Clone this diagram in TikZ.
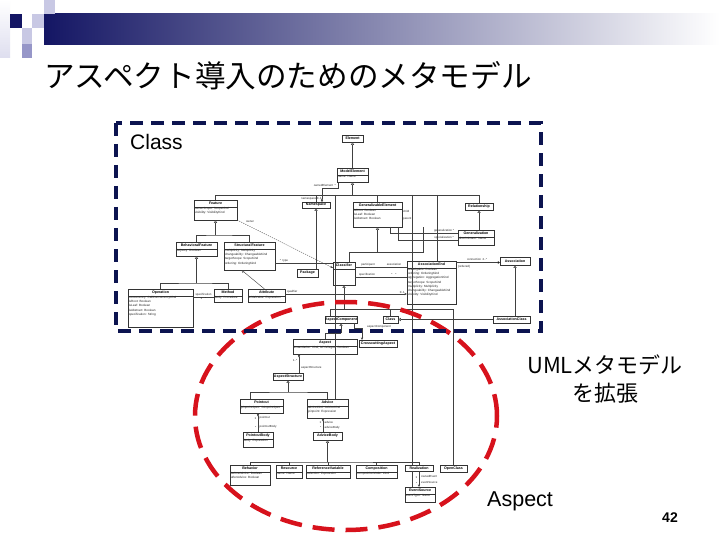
\documentclass[tikz,border=0pt]{standalone}
\usepackage{fontspec}
\setmainfont{Liberation Sans}
\newfontfamily\jpfont{Noto Sans CJK JP}
\usetikzlibrary{arrows.meta}
\definecolor{navy}{RGB}{20,22,100}
\definecolor{dashblue}{RGB}{12,20,80}
\definecolor{dashred}{RGB}{215,18,28}
\definecolor{sqlight}{RGB}{200,200,228}
\definecolor{sqmid}{RGB}{150,150,200}
\newcommand{\uhd}[6]{%
  \node[ubox, minimum width={#4-#2}, minimum height={#5-#3}] (#1) at ({(#2+#4)/2},{(#3+#5)/2}) {};
  \node[uhead] at ({(#2+#4)/2},{(#3+#5)/2}) {#6};}
\newcommand{\ucl}[7]{%
  \node[ubox, minimum width={#4-#2}, minimum height={#5-#3}] (#1) at ({(#2+#4)/2},{(#3+#5)/2}) {};
  \node[uhead] at ({(#2+#4)/2},{#3+3.4}) {#6};
  \draw[ubord] (#2,#3+6.8) -- (#4,#3+6.8);
  \node[uattr] at (#2+0.8,#3+7.3) {#7};}
\begin{document}
\begin{tikzpicture}[x=1pt,y=-1pt,
  ubox/.style={draw=black!80, line width=0.45pt, inner sep=0, outer sep=0, rectangle},
  uhead/.style={font=\fontsize{3.6}{4}\selectfont\bfseries, inner sep=0},
  uattr/.style={font=\fontsize{3.05}{4.1}\selectfont, inner sep=0, anchor=north west, align=left, text=black!85},
  ubord/.style={draw=black!80, line width=0.35pt},
  uline/.style={draw=black!75, line width=0.42pt},
  gen/.style={uline, -{Triangle[open, length=2.8pt, width=3pt]}},
  comp/.style={uline, {Diamond[length=3.4pt, width=2.2pt]}-},
  arr/.style={uline, -{Stealth[length=2.6pt, width=2.2pt]}},
  udash/.style={uline, dash pattern=on 1.3pt off 1pt},
  ulab/.style={font=\fontsize{2.9}{3.2}\selectfont, inner sep=0, text=black!85}]
\useasboundingbox (0,0) rectangle (720,540);
\fill[white] (0,0) rectangle (720,540);
% header decoration
\shade[left color=navy, right color=white] (44,14) rectangle (720,45);
\shade[top color=white, bottom color=sqlight!60] (0,0) rectangle (10,58);
\fill[sqlight] (44,0) rectangle (55,14);
\fill[sqlight] (32,14) rectangle (44,28);
\fill[navy] (10,14) rectangle (22,28);
\fill[sqlight] (22,28) rectangle (32,44);
\fill[sqmid] (22,44) rectangle (32,58);
% title
\node[anchor=west, inner sep=0, font=\jpfont\fontsize{30.6}{36}\selectfont] (title) at (44,76) {アスペクト導入のためのメタモデル};
% ---------- UML metamodel ----------
\uhd{elem}{342}{135}{363}{142}{Element}
\ucl{modelel}{337}{168}{368}{182}{ModelElement}{name: Name}
\uhd{namesp}{302}{202}{330}{208}{Namespace}
\ucl{genel}{353}{202}{402}{227}{GeneralizableElement}{isRoot: Boolean\\isLeaf: Boolean\\isAbstract: Boolean}
\uhd{relat}{465}{203}{493}{210}{Relationship}
\ucl{gener}{458}{230}{494}{245}{Generalization}{discriminator: Name}
\ucl{feature}{194}{200}{237}{220}{Feature}{ownerScope: ScopeKind\\visibility: VisibilityKind}
\ucl{behf}{176}{242}{217}{256}{BehavioralFeature}{isQuery: Boolean}
\ucl{strf}{224}{242}{275}{270}{StructuralFeature}{multiplicity: Multiplicity\\changeability: ChangeableKind\\targetScope: ScopeKind\\ordering: OrderingKind}
\uhd{pkg}{297}{269}{318}{277}{Package}
\ucl{classifier}{333}{262}{355}{285}{Classifier}{}
\ucl{assocend}{407}{261}{456}{304}{AssociationEnd}{isNavigable: Boolean\\ordering: OrderingKind\\aggregation: AggregationKind\\targetScope: ScopeKind\\multiplicity: Multiplicity\\changeability: ChangeableKind\\visibility: VisibilityKind}
\uhd{assoc}{500}{257}{530}{265}{Association}
\uhd{assoccls}{493}{316}{530}{323}{AssociationClass}
\ucl{opn}{128}{289}{193}{327}{Operation}{concurrency: CallConcurrencyKind\\isRoot: Boolean\\isLeaf: Boolean\\isAbstract: Boolean\\specification: String}
\ucl{method}{214}{289}{242}{302}{Method}{body: Procedure}
\ucl{attrib}{248}{289}{285}{302}{Attribute}{initialValue: Expression}
\uhd{aspcomp}{325}{316}{357}{323}{AspectComponent}
\uhd{classb}{383}{316}{398}{323}{Class}
\ucl{aspect}{293}{339}{357}{354}{Aspect}{instantiation: Kind; isPrivileged: Boolean}
\uhd{crossasp}{359}{340}{397}{347}{CrosscuttingAspect}
\uhd{aspstruct}{273}{373}{303}{380}{AspectStructure}
\ucl{pointcut}{240}{399}{283}{413}{Pointcut}{joinpointSpec: JoinpointSpec}
\ucl{advice}{307}{399}{348}{418}{Advice}{adviceKind: AdviceKind\\joinpoint: Expression}
\ucl{pcbody}{243}{432}{273}{447}{PointcutBody}{body: Expression}
\uhd{advbody}{313}{432}{342}{440}{AdviceBody}
\ucl{bA}{230}{465}{270}{485}{Behavior}{beforeAdvice: Boolean\\afterAdvice: Boolean}
\ucl{bB}{276}{465}{302}{478}{Resource}{name: Name}
\ucl{bC}{306}{465}{350}{478}{ReferenceVariable}{selection: Expression}
\ucl{bD}{356}{465}{397}{478}{Composition}{compositionMode: Kind}
\uhd{bE}{405}{465}{433}{471}{Realization}
\uhd{bF}{440}{465}{467}{472}{OpenClass}
\ucl{bG}{405}{487}{435}{502}{EventSource}{eventType: Name}
% connectors
\draw[gen] (modelel.north) -- (elem.south);
\coordinate (busT) at (352.5,195);
\coordinate (busL) at (215.5,195);
\coordinate (busR) at (479,195);
\draw[gen] (busT) -- (modelel.south);
\draw[uline] (busL) -- (busR);
\draw[uline] (feature.north) -- (busL);
\draw[uline] (namesp.north) -- (namesp.north |- busT);
\draw[uline] (genel.north) -- (genel.north |- busT);
\draw[uline] (relat.north) -- (busR);
\coordinate (v1) at (335,195);
\coordinate (v2) at (412,195);
\coordinate (v3) at (437,195);
\draw[uline] (v1) -- (v1 |- advice.north);
\draw[uline] (v2) -- (v2 |- bE.north);
\draw[uline] (v3) -- (v3 |- assocend.north);
\draw[comp] ([xshift=6pt]namesp.north) |- ([xshift=1pt,yshift=-6pt]modelel.south west) -- ([xshift=1pt]modelel.south west);
\node[ulab, anchor=east] at (336,185.5) {ownedElement\ \ *};
\node[ulab, anchor=west] at (301,198.5) {namespace 0..1};
\draw[uline] ([xshift=-12pt]genel.south east) |- ([yshift=4.5pt]gener.west);
\draw[uline] ([xshift=-4pt]genel.south east) |- ([yshift=-2.5pt]gener.west);
\node[ulab] at (444,230.6) {generalization\ *};
\node[ulab] at (444,237.8) {specialization\ *};
\node[ulab, anchor=west] at (403,211) {child};
\node[ulab, anchor=west] at (403,219) {parent};
\draw[gen] (relat.south |- gener.north) -- (relat.south);
% feature tree
\coordinate (fb) at (215.5,235);
\draw[gen] (fb) -- (feature.south);
\draw[uline] (behf.north) |- (fb) -| (strf.north);
\coordinate (bb) at (196.5,283);
\draw[gen] (bb) -- (behf.south);
\draw[uline] (opn.north) |- (bb) -| (method.north);
\draw[uline] ([yshift=-8pt]opn.north east) -- ([yshift=-8pt]method.north west);
\node[ulab, anchor=south] at (203.5,296.3) {specification};
\node[ulab, anchor=north] at (203.5,297.8) {1\quad *};
\draw[gen] ([xshift=-2pt]attrib.north) -- ([xshift=-8pt]strf.south);
\draw[udash, -{Stealth[length=2.6pt, width=2.2pt]}] (feature.south east) -- ([yshift=-6pt]classifier.north west);
\node[ulab] at (250,222) {owner};
\draw[uline] (strf.east |- 0,263) -- (classifier.west |- 0,263);
\node[ulab] at (284,260.5) {*\ \ type};
\draw[gen] (namesp.south |- pkg.north) -- (namesp.south);
\coordinate (gx) at (423,252);
\draw[uline] ([xshift=5.5pt]classifier.north) |- (gx) -- (gx |- genel.south);
\draw[gen] (genel.south |- gx) -- (genel.south);
\draw[uline] ([yshift=-5pt]classifier.north east) -- (assocend.west |- 0,267);
\draw[uline] ([yshift=-15pt]classifier.north east) -- (assocend.west |- 0,277);
\node[ulab] at (368,264.5) {participant};
\node[ulab] at (394,264.5) {association};
\node[ulab] at (367,274.5) {specification};
\node[ulab] at (394,274.5) {*\quad *};
\draw[arr] ([yshift=-5pt]attrib.north east) -- (assocend.west |- 0,294);
\node[ulab, anchor=south west] at (287,293.5) {qualifier};
\node[ulab, anchor=south east] at (405,293.5) {0..1};
\draw[uline, -{Diamond[length=3.4pt, width=2.2pt, fill=black]}] ([yshift=-1.5pt]assocend.north east) -- ([yshift=-1.5pt]assoc.west);
\node[ulab] at (477,259.3) {connection\ \ 2..*};
\node[ulab] at (464,266.5) {\{ordered\}};
\draw[gen] (assoccls.north -| assoc.south) -- (assoc.south);
\draw[gen] (assoccls.west) -- (classb.east);
% classifier subtree
\coordinate (cbus) at (344,309);
\draw[gen] (cbus) -- (classifier.south);
\draw[uline] ([xshift=-11pt]aspcomp.north) |- (bF.north |- cbus) -- (bF.north);
\draw[uline] (classb.north) -- (classb.north |- cbus);
% aspect part
\coordinate (ab) at (341,333);
\draw[gen] (ab) -- (aspcomp.south);
\draw[uline] (ab) -| (aspect.north);
\draw[arr] ([xshift=-3pt]aspcomp.south east) |- ([xshift=-16pt,yshift=12pt]crossasp.north) -- ([xshift=-16pt]crossasp.north);
\node[ulab] at (379,326.5) {aspectComponent};
\node[ulab] at (356,330.5) {0..1};
\draw[comp] ([xshift=-26pt]aspect.south) -- ([xshift=-26pt]aspect.south |- aspstruct.north);
\node[ulab, anchor=east] at (297.5,361) {1..*};
\node[ulab, anchor=west] at (301,368) {aspectStructure};
\coordinate (sb) at (288,392);
\draw[gen] (sb) -- (aspstruct.south);
\draw[uline] ([xshift=-11.5pt]pointcut.north) |- (sb) -| (advice.north);
\draw[comp] ([xshift=-3.5pt]pointcut.south) -- ([xshift=-3.5pt]pointcut.south |- pcbody.north);
\node[ulab, anchor=east] at (256.5,418) {1};
\node[ulab, anchor=west] at (259.5,418) {pointcut};
\node[ulab, anchor=east] at (256.5,427) {*};
\node[ulab, anchor=west] at (259.5,427) {pointcutBody};
\draw[comp] ([xshift=-4.5pt]advice.south) -- ([xshift=-4.5pt]advice.south |- advbody.north);
\node[ulab, anchor=east] at (321.5,422) {1};
\node[ulab, anchor=west] at (324.5,422) {advice};
\node[ulab, anchor=east] at (321.5,428) {*};
\node[ulab, anchor=west] at (324.5,428) {adviceBody};
\coordinate (db) at (327.5,462);
\draw[gen] (db) -- (advbody.south);
\draw[uline] (bA.north) |- (db) -| (bE.north);
\draw[uline] (bB.north) -- (bB.north |- db);
\draw[uline] (bC.north) -- (bC.north |- db);
\draw[uline] (bD.north) -- (bD.north |- db);
\draw[arr] (bE.south) -- (bE.south |- bG.north);
\draw[uline] ([xshift=-7pt]bE.south) -- ([xshift=-7pt]bE.south |- bG.north);
\node[ulab, anchor=east] at (417.5,477) {1};
\node[ulab, anchor=west] at (421,476) {ownedEvent};
\node[ulab, anchor=east] at (417.5,483) {*};
\node[ulab, anchor=west] at (421,482) {eventSource};
% ---------- overlays ----------
\draw[dashred, line width=4.5pt, dash pattern=on 22pt off 11pt] (346,416) ellipse [x radius=151pt, y radius=114pt];
\draw[dashblue, line width=3.5pt, dash pattern=on 13pt off 8pt] (116,123) rectangle (541,331);
\node[anchor=base west, inner sep=0, font=\fontsize{21}{25}\selectfont] (lclass) at (130,150) {Class};
\node[align=center, inner sep=0, font=\jpfont\fontsize{22}{28}\selectfont] (luml) at (605,379) {UMLメタモデル\\を拡張};
\node[anchor=base west, inner sep=0, font=\fontsize{21.5}{25}\selectfont] (lasp) at (487,506) {Aspect};
\node[anchor=base, inner sep=0, font=\bfseries\fontsize{14}{16}\selectfont] (pnum) at (670,522) {42};
\end{tikzpicture}
\end{document}
